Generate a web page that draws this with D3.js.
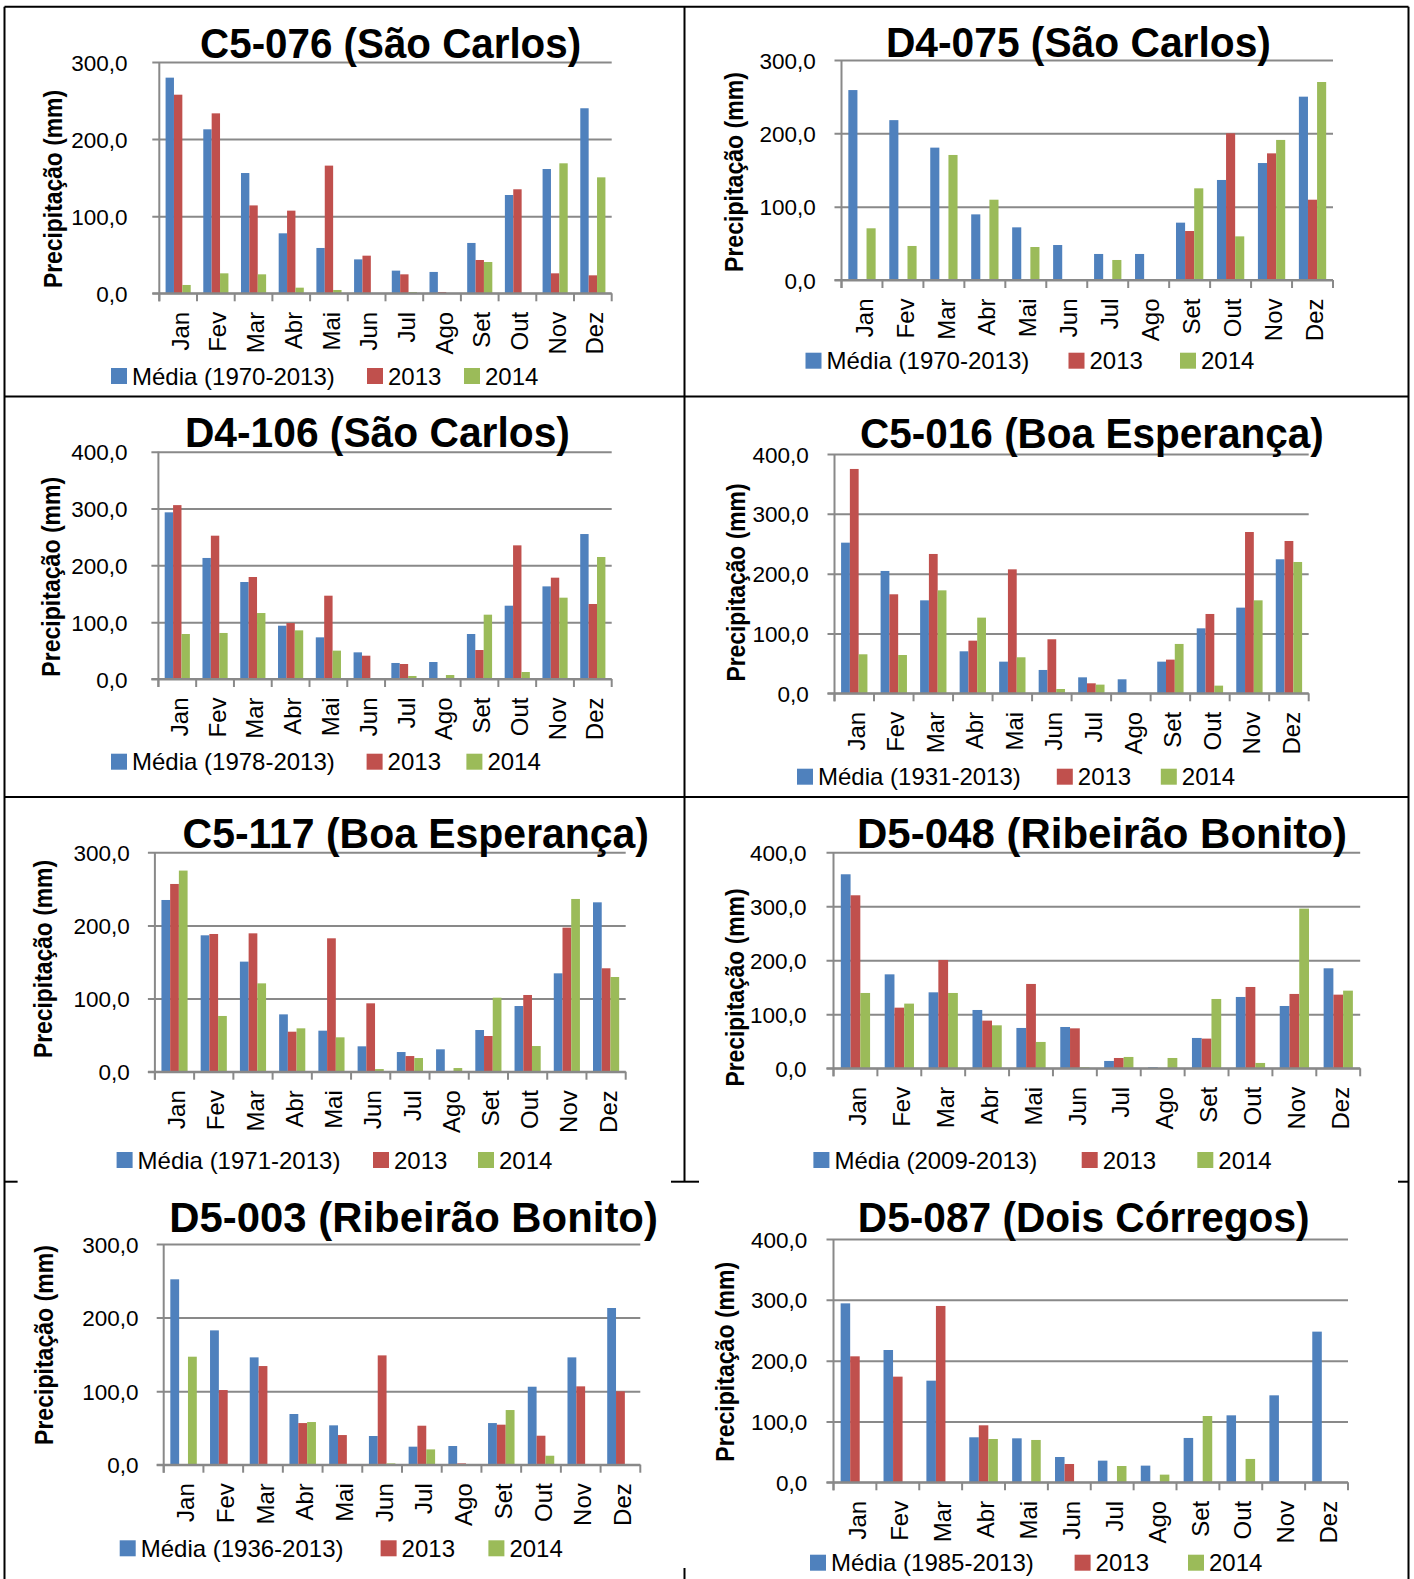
<!DOCTYPE html>
<html><head><meta charset="utf-8">
<script src="https://cdn.jsdelivr.net/npm/d3@7"></script>
<style>
body{margin:0;background:#fff}
svg{display:block}
text{font-family:"Liberation Sans",Arial,sans-serif;fill:#000}
</style>
</head><body>
<svg id="chart" width="1414" height="1579"></svg>
<script>
// ---------- DATA ----------
const months = ["Jan","Fev","Mar","Abr","Mai","Jun","Jul","Ago","Set","Out","Nov","Dez"];
const ticks300 = [0,100,200,300];
const ticks400 = [0,100,200,300,400];
const titles = ["C5-076 (São Carlos)","D4-075 (São Carlos)","D4-106 (São Carlos)","C5-016 (Boa Esperança)",
                "C5-117 (Boa Esperança)","D5-048 (Ribeirão Bonito)","D5-003 (Ribeirão Bonito)","D5-087 (Dois Córregos)"];
const mediaLabels = ["Média (1970-2013)","Média (1970-2013)","Média (1978-2013)","Média (1931-2013)",
                     "Média (1971-2013)","Média (2009-2013)","Média (1936-2013)","Média (1985-2013)"];
const yearLabels = ["2013","2014"];
const yLabel = "Precipitação (mm)";

const c5_076_media = [279.7,212.7,156.0,77.8,58.8,44.0,29.4,27.7,65.3,127.5,161.2,240.0];
const c5_076_2013  = [257.6,233.4,114.0,107.2,165.6,48.8,24.6,1.7,43.2,134.9,25.9,23.3];
const c5_076_2014  = [10.8,25.9,24.6,7.3,4.3,null,1.7,null,40.6,null,168.6,150.4];

const d4_075_media = [259.0,218.0,180.5,89.5,71.8,47.7,35.5,35.5,78.2,136.4,159.5,250.0];
const d4_075_2013  = [null,null,null,null,null,null,null,null,66.8,200.0,172.7,109.5];
const d4_075_2014  = [70.5,46.4,170.5,109.5,45.0,null,27.3,0.9,125.0,59.5,191.0,270.0];

const d4_106_media = [293.3,213.0,170.7,93.8,73.3,46.9,28.2,29.9,79.2,129.0,163.0,255.1];
const d4_106_2013  = [306.0,252.2,179.5,98.5,146.6,41.0,26.4,null,51.0,235.2,178.3,132.0];
const d4_106_2014  = [79.2,81.0,116.1,85.6,49.9,1.2,5.3,7.0,113.2,12.3,143.1,214.7];

const c5_016_media = [251.8,204.5,155.4,70.2,52.9,39.0,26.7,23.4,52.9,108.6,143.2,224.0];
const c5_016_2013  = [375.0,165.5,232.9,88.0,207.2,90.3,16.7,null,56.3,132.6,269.6,254.6];
const c5_016_2014  = [65.2,64.0,172.1,126.5,60.2,7.2,14.5,null,82.5,12.8,155.4,219.5];

const c5_117_media = [234.8,186.5,150.5,78.4,56.1,34.7,26.9,30.6,57.0,89.8,134.5,231.6];
const c5_117_2013  = [256.7,188.3,189.2,54.7,182.4,93.5,21.4,1.0,48.8,104.9,197.0,141.4];
const c5_117_2014  = [275.0,76.2,120.8,59.3,47.0,3.6,18.7,5.0,101.2,35.1,236.2,129.5];

const d5_048_media = [359.3,174.0,140.7,108.0,74.7,76.5,13.6,1.9,56.2,132.1,115.4,185.2];
const d5_048_2013  = [320.4,112.3,200.6,88.3,156.2,74.0,19.1,null,55.0,150.6,137.7,136.4];
const d5_048_2014  = [139.5,119.8,139.5,79.6,48.8,1.9,21.0,19.1,128.4,9.9,295.7,143.8];

const d5_003_media = [252.0,182.6,145.9,68.9,53.5,39.0,24.5,25.4,56.6,106.0,145.9,213.0];
const d5_003_2013  = [null,101.5,134.1,56.6,40.3,148.6,53.0,1.8,54.4,39.4,106.5,99.7];
const d5_003_2014  = [146.8,null,null,58.0,null,1.8,20.8,null,74.3,12.2,null,null];

const d5_087_media = [294.2,217.5,167.1,74.0,72.3,41.6,35.6,27.4,72.9,110.1,143.0,247.7];
const d5_087_2013  = [207.1,173.7,289.9,93.7,null,30.1,null,null,null,null,null,null];
const d5_087_2014  = [null,null,null,71.2,69.6,null,26.8,12.6,109.0,38.4,null,null];

const panelSeries = [
  [c5_076_media,c5_076_2013,c5_076_2014, ticks300],
  [d4_075_media,d4_075_2013,d4_075_2014, ticks300],
  [d4_106_media,d4_106_2013,d4_106_2014, ticks400],
  [c5_016_media,c5_016_2013,c5_016_2014, ticks400],
  [c5_117_media,c5_117_2013,c5_117_2014, ticks300],
  [d5_048_media,d5_048_2013,d5_048_2014, ticks400],
  [d5_003_media,d5_003_2013,d5_003_2014, ticks300],
  [d5_087_media,d5_087_2013,d5_087_2014, ticks400]
];

// ---------- LAYOUT ----------
const layout = [
  {x0:159.3,x1:611.7,yTop:62,  yZero:293.3, lab:127.6, tx:390.6, ty:58,    tw:381,   yl:[52.8,189,198],   ly:376,   lx:[111,367,464]},
  {x0:841.5,x1:1333, yTop:60,  yZero:280,   lab:815.8, tx:1078.4,ty:57,    tw:385,   yl:[733.8,172,200],  ly:360.7, lx:[805.5,1068.5,1180]},
  {x0:158.4,x1:611.7,yTop:451.7,yZero:679,  lab:127.6, tx:377.4, ty:446.7, tw:385,   yl:[50.6,576.7,200], ly:761.7, lx:[111,366.6,466.4]},
  {x0:834.5,x1:1308.7,yTop:454,yZero:693.3, lab:808.7, tx:1091.9,ty:447.7, tw:463.7, yl:[736,582.5,198],  ly:776.7, lx:[797,1056.8,1160.8]},
  {x0:154.9,x1:625.7,yTop:852.3,yZero:1071.7,lab:129.8,tx:415.8, ty:848.3, tw:466.4, yl:[42.7,959,198],   ly:1160,  lx:[116.6,373,478]},
  {x0:833.5,x1:1360.2,yTop:852.3,yZero:1068.3,lab:806.4,tx:1102, ty:848.3, tw:490,   yl:[735,987.5,198],  ly:1160,  lx:[813.4,1081.7,1197.3]},
  {x0:163.7,x1:640.3,yTop:1244,yZero:1464.7,lab:138.6, tx:413.6, ty:1231.7,tw:488.5, yl:[44,1345,200],    ly:1548.3,lx:[119.7,380.6,488.4]},
  {x0:833.5,x1:1348, yTop:1239,yZero:1482.3,lab:807.3, tx:1083.7,ty:1231.7,tw:451.7, yl:[724.5,1361.7,200],ly:1562.7,lx:[810,1074.6,1188]}
];
const colors = ["#4F81BD","#C0504D","#9BBB59"];
const gridColor = "#898989";

const svg = d3.select("#chart");
const fmt = d3.formatLocale({decimal:",",thousands:".",grouping:[3],currency:["R$",""]}).format(".1f");

// frame lines
const frame = [
  [4.5,6.7,1408.5,6.7],[4.5,6.7,4.5,1579],[1408.5,6.7,1408.5,1579],
  [684.5,6.7,684.5,1182],[684.5,1568,684.5,1579],
  [4.5,396.5,1408.5,396.5],[4.5,797,1408.5,797],
  [4.5,1181.7,17.6,1181.7],[671,1181.7,699,1181.7],[1398,1181.7,1408.5,1181.7]
];
svg.append("g").selectAll("line").data(frame).join("line")
  .attr("x1",d=>d[0]).attr("y1",d=>d[1]).attr("x2",d=>d[2]).attr("y2",d=>d[3])
  .attr("stroke","#000").attr("stroke-width",2);

panelSeries.forEach((ps,p)=>{
  const L = layout[p];
  const series = ps.slice(0,3);
  const tv = ps[3];
  const g = svg.append("g");
  const y = d3.scaleLinear().domain([0, d3.max(tv)]).range([L.yZero, L.yTop]);
  const x = d3.scaleBand().domain(months).range([L.x0, L.x1]).padding(0);
  const bw = x.bandwidth()/4.5;

  // gridlines + y tick labels
  const ga = g.append("g").attr("transform",`translate(${L.x0-7},0)`)
    .call(d3.axisLeft(y).tickValues(tv).tickSize(-(L.x1-L.x0+7)).tickPadding(L.x0-7-L.lab).tickFormat(fmt));
  ga.select(".domain").remove();
  ga.selectAll(".tick line").attr("stroke",gridColor).attr("stroke-width",2);
  ga.selectAll(".tick text").attr("font-size",22.5).attr("dy","0.36em");

  // bars
  series.forEach((s,i)=>{
    g.append("g").selectAll("rect")
      .data(months.map((m,j)=>({m, v:s[j]})).filter(d=>d.v!=null))
      .join("rect")
      .attr("x",d=>x(d.m)+0.75*bw+i*bw)
      .attr("width",bw)
      .attr("y",d=>y(d.v))
      .attr("height",d=>y(0)-y(d.v))
      .attr("fill",colors[i]);
  });

  // y axis line
  g.append("line").attr("x1",L.x0).attr("x2",L.x0).attr("y1",L.yTop).attr("y2",L.yZero+8)
    .attr("stroke",gridColor).attr("stroke-width",2);
  // zero line on top
  g.append("line").attr("x1",L.x0-7).attr("x2",L.x1).attr("y1",y(0)).attr("y2",y(0))
    .attr("stroke",gridColor).attr("stroke-width",2);
  // category boundary ticks
  g.append("g").selectAll("line").data(months.map(m=>x(m)).concat([L.x1])).join("line")
    .attr("x1",d=>d).attr("x2",d=>d).attr("y1",L.yZero).attr("y2",L.yZero+8)
    .attr("stroke",gridColor).attr("stroke-width",2);

  // x axis labels
  const xa = g.append("g").attr("transform",`translate(0,${L.yZero})`)
    .call(d3.axisBottom(x).tickSize(0));
  xa.select(".domain").remove();
  xa.selectAll(".tick text").attr("font-size",24).attr("x",0).attr("y",0).attr("dy","0.36em")
    .attr("text-anchor","end").attr("transform","translate(2,18.5) rotate(-90)");

  // title
  g.append("text").attr("x",L.tx).attr("y",L.ty).attr("text-anchor","middle")
    .attr("font-size",43).attr("font-weight","bold")
    .attr("textLength",L.tw).attr("lengthAdjust","spacingAndGlyphs").text(titles[p]);

  // y label
  g.append("text").attr("transform",`translate(${L.yl[0]},${L.yl[1]}) rotate(-90)`)
    .attr("text-anchor","middle").attr("dy","0.36em").attr("font-size",25).attr("font-weight","bold")
    .attr("textLength",L.yl[2]).attr("lengthAdjust","spacingAndGlyphs").text(yLabel);

  // legend
  const names = [mediaLabels[p]].concat(yearLabels);
  names.forEach((n,i)=>{
    g.append("rect").attr("x",L.lx[i]).attr("y",L.ly-8).attr("width",16).attr("height",16).attr("fill",colors[i]);
    g.append("text").attr("x",L.lx[i]+21).attr("y",L.ly).attr("dy","0.36em").attr("font-size",24).text(n);
  });
});
</script>
</body></html>
